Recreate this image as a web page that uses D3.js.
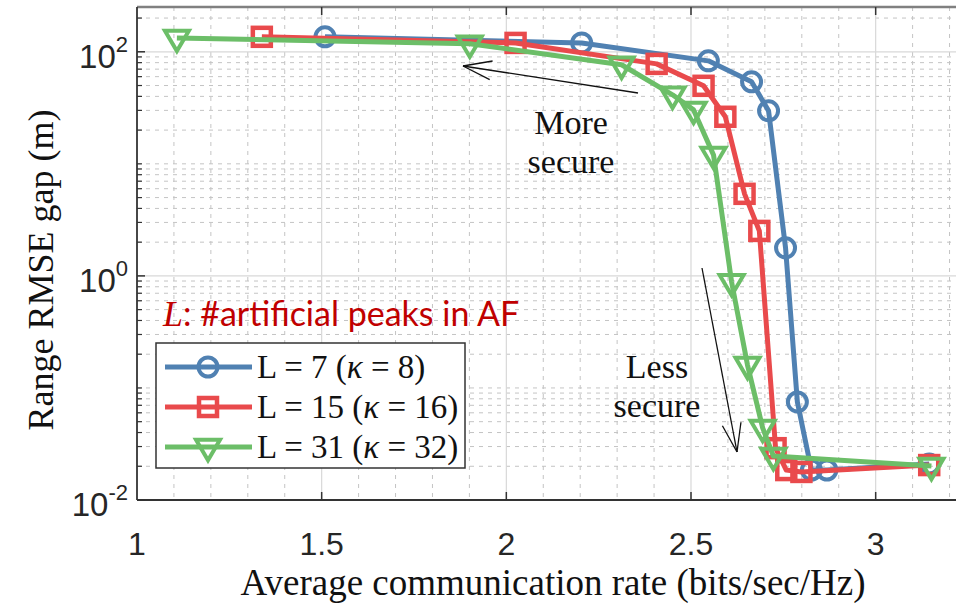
<!DOCTYPE html>
<html>
<head>
<meta charset="utf-8">
<script src="https://cdn.jsdelivr.net/npm/d3@7"></script>
<style>
  html, body { margin: 0; padding: 0; background: #fff; }
  svg { display: block; }
</style>
</head>
<body>
<svg id="chart" width="956" height="603"></svg>
<script>
// Average communication rate (bits/sec/Hz) and range RMSE gap (m) per setting
const seriesNames = ["L = 7", "L = 15", "L = 31"];
const kappaValues = ["8", "16", "32"];

const rateL7 = [1.509, 2.204, 2.547, 2.664, 2.710, 2.756, 2.788, 2.826, 2.868, 3.145];
const gapL7  = [136, 120, 83, 54, 29.7, 1.78, 0.075, 0.0185, 0.0185, 0.021];

const rateL15 = [1.338, 2.025, 2.407, 2.534, 2.593, 2.645, 2.685, 2.729, 2.758, 2.799, 3.145];
const gapL15  = [136, 120, 78, 49.7, 26.3, 5.4, 2.52, 0.029, 0.0185, 0.0178, 0.0205];

const rateL31 = [1.108, 1.901, 2.312, 2.450, 2.507, 2.561, 2.610, 2.653, 2.694, 2.723, 3.151];
const gapL31  = [133, 118, 76.6, 41.3, 30.3, 12.0, 0.88, 0.160, 0.044, 0.0247, 0.0201];

const xTicks = [1, 1.5, 2, 2.5, 3];
const yTicks = [1e-2, 1e0, 1e2];
const yTickExp = ["-2", "0", "2"];

const colors = ["#5081b2", "#e94a4c", "#6cbe68"];
const markers = ["circle", "square", "triangle"];

const svg = d3.select("#chart");
const pLeft = 137, pRight = 968, pTop = 7, pBottom = 500;

const x = d3.scaleLinear().domain([1, 3.25]).range([pLeft, pRight]);
const y = d3.scaleLog().domain([0.01, 251]).range([pBottom, pTop]);

const serif = "'Liberation Serif', 'Times New Roman', serif";
const sans = "'Liberation Sans', Arial, sans-serif";

// ---- grid ----
const grid = svg.append("g");
const xMinor = d3.range(11, 33).map(d => d / 10).filter(d => !xTicks.some(t => Math.abs(t - d) < 1e-9));
const yMinor = [];
for (let e = -2; e <= 2; e++) for (let k = 1; k <= 9; k++) {
  const v = k * Math.pow(10, e);
  if (k === 1 && e % 2 === 0) continue;
  if (v < 251) yMinor.push(v);
}
grid.selectAll(".xminor").data(xMinor).join("line")
  .attr("x1", d => x(d)).attr("x2", d => x(d)).attr("y1", pTop).attr("y2", pBottom)
  .attr("stroke", "#c4c4c4").attr("stroke-width", 1).attr("stroke-dasharray", "4,5");
grid.selectAll(".yminor").data(yMinor).join("line")
  .attr("x1", pLeft).attr("x2", pRight).attr("y1", d => y(d)).attr("y2", d => y(d))
  .attr("stroke", "#c4c4c4").attr("stroke-width", 1).attr("stroke-dasharray", "4,5");
grid.selectAll(".xmajor").data(xTicks.slice(1)).join("line")
  .attr("x1", d => x(d)).attr("x2", d => x(d)).attr("y1", pTop).attr("y2", pBottom)
  .attr("stroke", "#d8d8d8").attr("stroke-width", 1.2);
grid.selectAll(".ymajor").data([1e0, 1e2]).join("line")
  .attr("x1", pLeft).attr("x2", pRight).attr("y1", d => y(d)).attr("y2", d => y(d))
  .attr("stroke", "#d8d8d8").attr("stroke-width", 1.2);

// ---- axes ----
const axes = svg.append("g");
axes.append("line").attr("x1", pLeft).attr("x2", pRight).attr("y1", pTop).attr("y2", pTop)
  .attr("stroke", "#808080").attr("stroke-width", 2.5);
axes.append("line").attr("x1", pLeft).attr("x2", pLeft).attr("y1", pTop).attr("y2", pBottom)
  .attr("stroke", "#333").attr("stroke-width", 1.8);
axes.append("line").attr("x1", pLeft).attr("x2", pRight).attr("y1", pBottom).attr("y2", pBottom)
  .attr("stroke", "#333").attr("stroke-width", 1.8);

// inward tick marks
axes.selectAll(".xt").data(xTicks.slice(1)).join("line")
  .attr("x1", d => x(d)).attr("x2", d => x(d)).attr("y1", pBottom).attr("y2", pBottom - 8)
  .attr("stroke", "#333").attr("stroke-width", 1.5);
axes.selectAll(".xtt").data(xTicks.slice(1)).join("line")
  .attr("x1", d => x(d)).attr("x2", d => x(d)).attr("y1", pTop).attr("y2", pTop + 8)
  .attr("stroke", "#333").attr("stroke-width", 1.5);
axes.selectAll(".yt").data(yTicks).join("line")
  .attr("x1", pLeft).attr("x2", pLeft + 8).attr("y1", d => y(d)).attr("y2", d => y(d))
  .attr("stroke", "#333").attr("stroke-width", 1.5);
axes.selectAll(".ytm").data(yMinor).join("line")
  .attr("x1", pLeft).attr("x2", pLeft + 5).attr("y1", d => y(d)).attr("y2", d => y(d))
  .attr("stroke", "#333").attr("stroke-width", 1.2);

// tick labels
axes.selectAll(".xl").data(xTicks).join("text")
  .attr("x", d => x(d)).attr("y", 555)
  .attr("text-anchor", "middle")
  .attr("font-family", sans).attr("font-size", 32).attr("fill", "#262626")
  .text(d => d3.format("")(d));

const yl = axes.selectAll(".yl").data(yTicks).join("text")
  .attr("x", 128).attr("y", d => y(d) + 16)
  .attr("text-anchor", "end")
  .attr("font-family", sans).attr("font-size", 33).attr("fill", "#262626");
yl.append("tspan").text("10");
yl.append("tspan").attr("dy", -16).attr("font-size", 22).text((d, i) => yTickExp[i]);

// axis titles
svg.append("text")
  .attr("x", 553).attr("y", 595).attr("text-anchor", "middle")
  .attr("font-family", serif).attr("font-size", 37).attr("fill", "#111")
  .text("Average communication rate (bits/sec/Hz)");
svg.append("text")
  .attr("transform", "translate(53,270) rotate(-90)")
  .attr("text-anchor", "middle")
  .attr("font-family", serif).attr("font-size", 36).attr("fill", "#111")
  .text("Range RMSE gap (m)");

// ---- series ----
const seriesData = [
  rateL7.map((r, i) => [r, gapL7[i]]),
  rateL15.map((r, i) => [r, gapL15[i]]),
  rateL31.map((r, i) => [r, gapL31[i]])
];

function drawMarker(g, type, cx, cy, color) {
  if (type === "circle") {
    g.append("circle").attr("cx", cx).attr("cy", cy).attr("r", 9.5)
      .attr("fill", "none").attr("stroke", color).attr("stroke-width", 4);
  } else if (type === "square") {
    g.append("rect").attr("x", cx - 9).attr("y", cy - 9).attr("width", 18).attr("height", 18)
      .attr("fill", "none").attr("stroke", color).attr("stroke-width", 4.5);
  } else {
    const s = 12;
    g.append("path")
      .attr("d", `M${cx - s},${cy - s * 0.6}L${cx + s},${cy - s * 0.6}L${cx},${cy + s * 1.1}Z`)
      .attr("fill", "none").attr("stroke", color).attr("stroke-width", 4).attr("stroke-linejoin", "miter");
  }
}

const line = d3.line().x(d => x(d[0])).y(d => y(d[1]));
seriesData.forEach((pts, si) => {
  const g = svg.append("g");
  g.append("path").attr("d", line(pts))
    .attr("fill", "none").attr("stroke", colors[si]).attr("stroke-width", 5)
    .attr("stroke-linejoin", "round");
  pts.forEach(p => drawMarker(g, markers[si], x(p[0]), y(p[1]), colors[si]));
});

// ---- annotations ----
function arrow(x1, y1, x2, y2) {
  const g = svg.append("g").attr("stroke", "#111").attr("stroke-width", 1.3).attr("fill", "none");
  g.append("line").attr("x1", x1).attr("y1", y1).attr("x2", x2).attr("y2", y2);
  const ang = Math.atan2(y2 - y1, x2 - x1);
  const len = 30, spread = 0.32;
  [ang + Math.PI - spread, ang + Math.PI + spread].forEach(a => {
    g.append("line").attr("x1", x2).attr("y1", y2)
      .attr("x2", x2 + len * Math.cos(a)).attr("y2", y2 + len * Math.sin(a));
  });
}
arrow(638, 93, 463, 66);
arrow(702, 268, 737, 452);

const note = svg.append("g").attr("font-family", serif).attr("font-size", 34).attr("fill", "#111")
  .attr("text-anchor", "middle");
note.append("text").attr("x", 571).attr("y", 134).text("More");
note.append("text").attr("x", 571).attr("y", 173).text("secure");
note.append("text").attr("x", 657).attr("y", 378).text("Less");
note.append("text").attr("x", 657).attr("y", 417).text("secure");

const lt = svg.append("text").attr("x", 163).attr("y", 326).attr("fill", "#c00000");
lt.append("tspan").attr("font-family", serif).attr("font-style", "italic").attr("font-size", 36).text("L");
lt.append("tspan").attr("font-family", "Lato, 'Open Sans', sans-serif").attr("font-size", 34)
  .text(": #artificial peaks in AF");

// ---- legend ----
const lg = svg.append("g");
lg.append("rect").attr("x", 156).attr("y", 343).attr("width", 309).attr("height", 125)
  .attr("fill", "#fff").attr("stroke", "#333").attr("stroke-width", 1.5);
seriesNames.forEach((name, i) => {
  const cy = 367 + i * 40;
  lg.append("line").attr("x1", 165).attr("x2", 252).attr("y1", cy).attr("y2", cy)
    .attr("stroke", colors[i]).attr("stroke-width", 5);
  drawMarker(lg, markers[i], 208, cy, colors[i]);
  const t = lg.append("text").attr("x", 257).attr("y", cy + 11)
    .attr("font-family", serif).attr("font-size", 33).attr("fill", "#111");
  t.append("tspan").text(name + " (");
  t.append("tspan").attr("font-style", "italic").text("κ");
  t.append("tspan").text(" = " + kappaValues[i] + ")");
});
</script>
</body>
</html>
